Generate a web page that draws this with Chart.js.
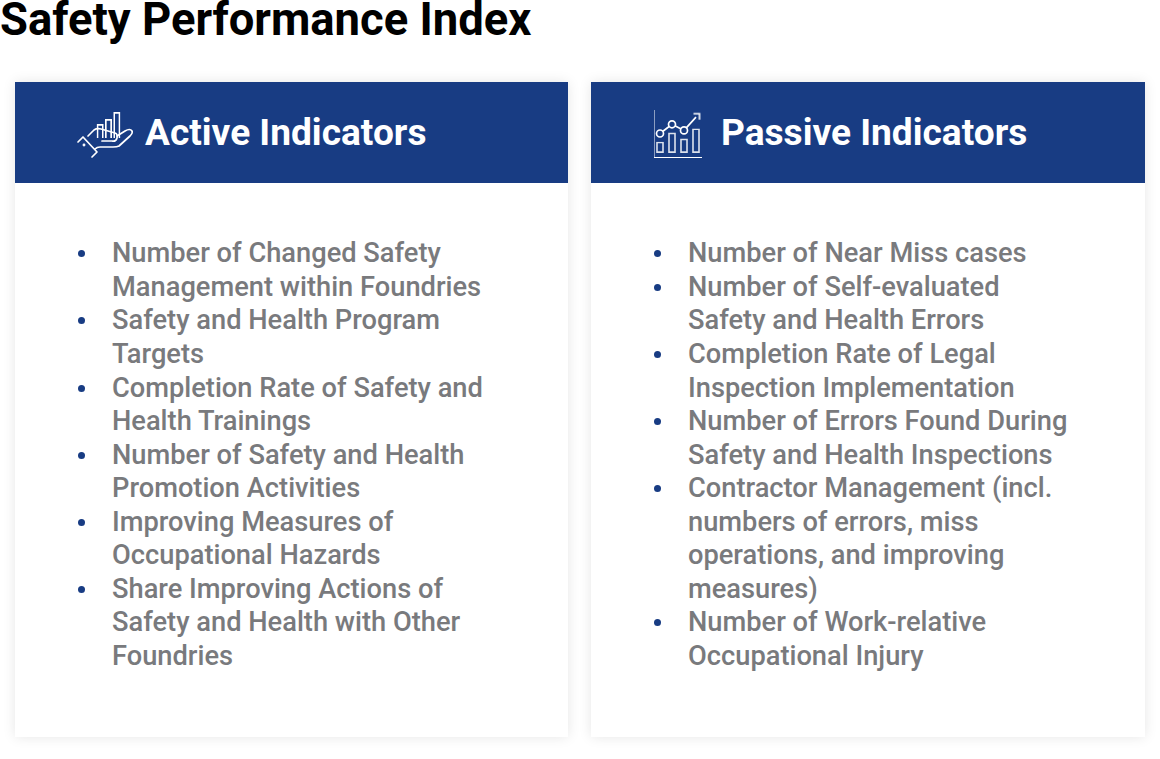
<!DOCTYPE html>
<html>
<head>
<meta charset="utf-8">
<script src="https://cdn.jsdelivr.net/npm/chart.js@4"></script>
<style>
html, body { margin: 0; padding: 0; background: #fff; }
body { width: 1160px; height: 759px; position: relative; overflow: hidden; font-family: Roboto, sans-serif; }
h1 { position: absolute; left: 0; top: 2px; margin: 0; font-size: 45.4px; line-height: 36px; font-weight: 700; color: #000; white-space: nowrap; }
.card { position: absolute; top: 82px; width: 553px; height: 655px; background: #fff; box-shadow: 0 0 12px rgba(0,0,0,.10); }
.card .head { position: absolute; left: 0; top: 0; width: 100%; height: 101px; background: #183c83; }
.card .head span { position: absolute; top: 28px; font-size: 37.1px; line-height: 46px; font-weight: 700; color: #fff; white-space: nowrap; }
ul { position: absolute; left: 0; top: 155.4px; margin: 0; padding: 0; list-style: none; }
li { position: relative; padding-left: 97px; font-size: 27.25px; line-height: 33.55px; font-weight: 500; color: #797a7d; white-space: nowrap; }
li::before { content: ""; position: absolute; left: 63px; top: 13px; width: 7px; height: 7px; border-radius: 50%; background: #183c83; }
canvas { position: absolute; }
svg { position: absolute; left: 0; top: 0; pointer-events: none; }
</style>
</head>
<body>
<h1 id="title"></h1>

<div class="card" style="left:15px"><div class="head"><span style="left:130px" id="headA"></span></div><ul id="listA"></ul></div>
<div class="card" style="left:591px;width:554px"><div class="head"><span style="left:130px" id="headB"></span></div><ul id="listB"></ul></div>

<canvas id="iconA" width="25" height="28" style="left:96px;top:110px"></canvas>
<canvas id="iconB" width="48" height="48" style="left:654px;top:110px"></canvas>

<svg width="1160" height="759" fill="none" stroke="#fff" stroke-width="1.7" stroke-linejoin="round" stroke-linecap="round">
  <path d="M78 142 L83 137 L97 152 L92 157"/>
  <path d="M88 136 L94 130 Q97 128 101 129 L115 133 Q118 134 117 138 Q116 142 112 141 L102 141"/>
  <path d="M117 136 L125 131 Q130 128 132 131 Q133 133 130 136 L119 146 Q117 147 113 147 L100 147 Q97 147 95 149"/>
  <circle cx="84" cy="145" r=".6"/>
</svg>

<script>
var titleText = "Safety Performance Index";
var activeTitle = "Active Indicators";
var passiveTitle = "Passive Indicators";

// each item is split where the line breaks in the picture
var activeItems = [
    ["Number of Changed Safety", "Management within Foundries"],
    ["Safety and Health Program", "Targets"],
    ["Completion Rate of Safety and", "Health Trainings"],
    ["Number of Safety and Health", "Promotion Activities"],
    ["Improving Measures of", "Occupational Hazards"],
    ["Share Improving Actions of", "Safety and Health with Other", "Foundries"]
];
var passiveItems = [
    ["Number of Near Miss cases"],
    ["Number of Self-evaluated", "Safety and Health Errors"],
    ["Completion Rate of Legal", "Inspection Implementation"],
    ["Number of Errors Found During", "Safety and Health Inspections"],
    ["Contractor Management (incl.", "numbers of errors, miss", "operations, and improving", "measures)"],
    ["Number of Work-relative", "Occupational Injury"]
];

// the two header icons are tiny charts
var handBars = [14, 19, 26];
var iconCats = ["a", "b", "c", "d"];
var iconBars = [[5, 16], [5, 25], [5, 19], [5, 29]];
var iconLine = [24, 33, 27, 40];

document.getElementById('title').textContent = titleText;
document.getElementById('headA').textContent = activeTitle;
document.getElementById('headB').textContent = passiveTitle;

function fillList(id, items) {
    var ul = document.getElementById(id);
    items.forEach(function (lines) {
        var li = document.createElement('li');
        lines.forEach(function (line, i) {
            if (i > 0) li.appendChild(document.createElement('br'));
            li.appendChild(document.createTextNode(line));
        });
        ul.appendChild(li);
    });
}
fillList('listA', activeItems);
fillList('listB', passiveItems);

// open arrow head for the last point of the little line
var arrow = document.createElement('canvas');
arrow.width = 11;
arrow.height = 11;
var a = arrow.getContext('2d');
a.strokeStyle = '#fff';
a.lineWidth = 1.6;
a.beginPath();
a.moveTo(3, 2);
a.lineTo(9, 2);
a.lineTo(9, 8);
a.stroke();

var plain = { legend: { display: false }, tooltip: { enabled: false } };

new Chart(document.getElementById('iconA').getContext('2d'), {
    type: 'bar',
    data: {
        labels: ["a", "b", "c"],
        datasets: [{
            data: handBars,
            backgroundColor: 'transparent',
            borderColor: '#fff',
            borderWidth: 1.7,
            barPercentage: 0.85,
            categoryPercentage: 1
        }]
    },
    options: {
        responsive: false,
        animation: false,
        plugins: plain,
        layout: { autoPadding: false },
        scales: {
            x: { display: false },
            y: { display: false, min: 0, max: 28 }
        }
    }
});

new Chart(document.getElementById('iconB').getContext('2d'), {
    type: 'bar',
    data: {
        labels: iconCats,
        datasets: [{
            type: 'line',
            data: iconLine,
            borderColor: '#fff',
            borderWidth: 1.7,
            tension: 0,
            pointRadius: [3.5, 3.5, 3.5, 5],
            pointBackgroundColor: '#183c83',
            pointBorderColor: '#fff',
            pointBorderWidth: 1.7,
            pointStyle: ['circle', 'circle', 'circle', arrow]
        }, {
            data: iconBars,
            backgroundColor: 'transparent',
            borderColor: 'rgba(255,255,255,.85)',
            borderWidth: 1.7,
            borderSkipped: false,
            barPercentage: 0.65,
            categoryPercentage: 1
        }]
    },
    options: {
        responsive: false,
        animation: false,
        plugins: plain,
        layout: { autoPadding: false },
        scales: {
            x: {
                grid: { display: false, drawTicks: false },
                ticks: { display: false, padding: 0 },
                border: { color: '#fff', width: 1.5 }
            },
            y: {
                min: 0,
                max: 47,
                grid: { display: false, drawTicks: false },
                ticks: { display: false, padding: 0 },
                border: { color: '#fff', width: 1.5 }
            }
        }
    }
});
</script>
</body>
</html>
